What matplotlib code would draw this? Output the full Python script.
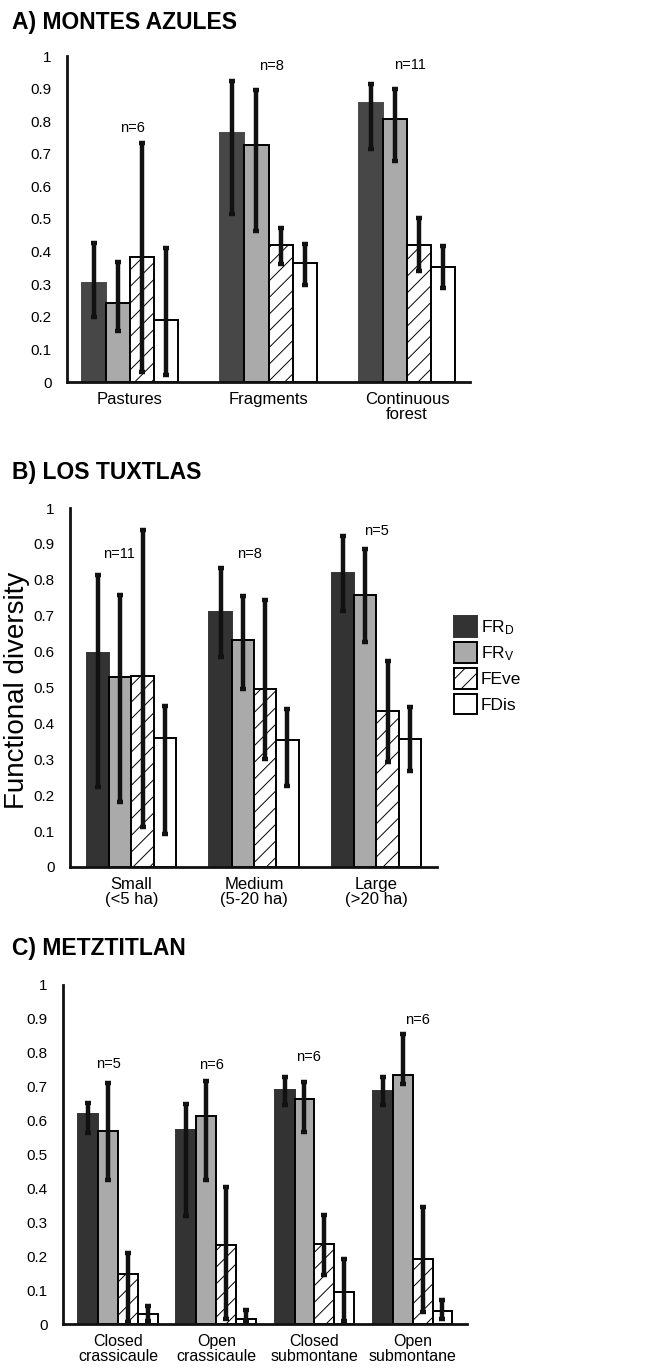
import matplotlib
matplotlib.use("Agg")
import matplotlib.pyplot as plt
from matplotlib.patches import Patch
import numpy as np

plt.rcParams['font.family'] = ['Liberation Sans', 'DejaVu Sans']
plt.rcParams['hatch.linewidth'] = 0.7
plt.rcParams['mathtext.fontset'] = 'custom'
plt.rcParams['mathtext.rm'] = 'Liberation Sans'
plt.rcParams['mathtext.it'] = 'Liberation Sans'

series = ["FR$_\\mathrm{D}$", "FR$_\\mathrm{V}$", "FEve", "FDis"]

# Panel A: Montes Azules
a_cats = ["Pastures", "Fragments", "Continuous\nforest"]
a_n = ["n=6", "n=8", "n=11"]
a_n_y = [0.78, 0.97, 0.972]
a_n_dx = [0.02, 0.02, 0.02]
a_vals = [[0.305, 0.765, 0.855],
          [0.243, 0.728, 0.808],
          [0.383, 0.420, 0.420],
          [0.191, 0.365, 0.353]]
a_lo = [[0.20, 0.514, 0.716],
        [0.155, 0.463, 0.678],
        [0.031, 0.362, 0.342],
        [0.02, 0.299, 0.289]]
a_hi = [[0.425, 0.923, 0.915],
        [0.368, 0.896, 0.900],
        [0.732, 0.473, 0.502],
        [0.411, 0.424, 0.417]]

# Panel B: Los Tuxtlas
b_cats = ["Small\n(<5 ha)", "Medium\n(5-20 ha)", "Large\n(>20 ha)"]
b_n = ["n=11", "n=8", "n=5"]
b_n_y = [0.872, 0.872, 0.935]
b_n_dx = [-0.10, -0.04, 0.0]
b_vals = [[0.595, 0.709, 0.819],
          [0.528, 0.632, 0.758],
          [0.533, 0.495, 0.435],
          [0.358, 0.354, 0.356]]
b_lo = [[0.222, 0.584, 0.714],
        [0.182, 0.495, 0.628],
        [0.111, 0.302, 0.293],
        [0.092, 0.227, 0.267]]
b_hi = [[0.814, 0.832, 0.921],
        [0.759, 0.756, 0.886],
        [0.938, 0.745, 0.574],
        [0.449, 0.441, 0.447]]

# Panel C: Metztitlan
c_cats = ["Closed\ncrassicaule", "Open\ncrassicaule", "Closed\nsubmontane", "Open\nsubmontane"]
c_n = ["n=5", "n=6", "n=6", "n=6"]
c_n_y = [0.767, 0.763, 0.789, 0.897]
c_n_dx = [-0.10, -0.05, -0.06, 0.05]
c_vals = [[0.620, 0.571, 0.691, 0.688],
          [0.569, 0.615, 0.665, 0.735],
          [0.147, 0.233, 0.237, 0.191],
          [0.029, 0.015, 0.093, 0.039]]
c_lo = [[0.564, 0.319, 0.645, 0.645],
        [0.424, 0.424, 0.567, 0.708],
        [0.005, 0.015, 0.144, 0.034],
        [0.010, 0.005, 0.010, 0.015]]
c_hi = [[0.652, 0.650, 0.728, 0.728],
        [0.711, 0.716, 0.713, 0.856],
        [0.208, 0.405, 0.322, 0.346],
        [0.052, 0.042, 0.193, 0.071]]

W, H = 646, 1372
fig = plt.figure(figsize=(W / 100, H / 100), dpi=100)

def make_ax(left, right, bottom, top):
    return fig.add_axes([left / W, 1 - bottom / H, (right - left) / W, (bottom - top) / H])

def draw(ax, cats, vals, lo, hi, ns, ny, ndx, bw, xlim, dark, xfs):
    x = np.arange(len(cats))
    fills = [dark, "#aaaaaa", "white", "white"]
    hatches = [None, None, "//", None]
    edges = [dark, "black", "black", "black"]
    for i in range(4):
        v = np.array(vals[i])
        pos = x + (i - 1.5) * bw
        err = np.array([v - np.array(lo[i]), np.array(hi[i]) - v])
        ax.bar(pos, v, width=bw, color=fills[i], edgecolor=edges[i], linewidth=1.4,
               hatch=hatches[i], zorder=2)
        ax.errorbar(pos, v, yerr=err, fmt="none", ecolor="#111111", elinewidth=3.2,
                    capsize=2.5, capthick=3.2, zorder=3)
    for xi, t, yy, dx in zip(x, ns, ny, ndx):
        ax.text(xi + dx, yy, t, ha="center", va="center", fontsize=10.5)
    ax.set_xlim(*xlim)
    ax.set_ylim(0, 1.0)
    ax.set_yticks(np.round(np.arange(0, 1.01, 0.1), 1))
    ax.set_yticklabels(["0"] + [f"{t:.1f}" for t in np.arange(0.1, 0.95, 0.1)] + ["1"])
    ax.tick_params(axis="y", length=0, pad=11, labelsize=11)
    ax.tick_params(axis="x", length=0, pad=7, labelsize=xfs)
    ax.set_xticks(x)
    ax.set_xticklabels(cats, linespacing=1.05)
    for s in ["top", "right"]:
        ax.spines[s].set_visible(False)
    for s in ["left", "bottom"]:
        ax.spines[s].set_linewidth(2.0)
        ax.spines[s].set_color("#111111")
    ax.spines["left"].set_bounds(0, 1.0)

axA = make_ax(67, 470, 382, 56)
draw(axA, a_cats, a_vals, a_lo, a_hi, a_n, a_n_y, a_n_dx, 0.175, (-0.455, 2.455), "#474747", 12)
axB = make_ax(70, 437, 867, 508)
draw(axB, b_cats, b_vals, b_lo, b_hi, b_n, b_n_y, b_n_dx, 0.182, (-0.502, 2.494), "#333333", 12)
axC = make_ax(63, 467, 1324, 985)
draw(axC, c_cats, c_vals, c_lo, c_hi, c_n, c_n_y, c_n_dx, 0.204, (-0.566, 3.556), "#333333", 11.5)

fig.text(12 / W, 1 - 22 / H, "A) MONTES AZULES", fontsize=16.5, fontweight="bold", va="center", ha="left")
fig.text(12 / W, 1 - 473 / H, "B) LOS TUXTLAS", fontsize=16.5, fontweight="bold", va="center", ha="left")
fig.text(12 / W, 1 - 948 / H, "C) METZTITLAN", fontsize=16.5, fontweight="bold", va="center", ha="left")
fig.text(17 / W, 1 - 690 / H, "Functional diversity", fontsize=20, rotation=90, va="center", ha="center")

handles = [Patch(facecolor="#333333", edgecolor="#333333", linewidth=1.4),
           Patch(facecolor="#aaaaaa", edgecolor="black", linewidth=1.4),
           Patch(facecolor="white", edgecolor="black", hatch="//", linewidth=1.4),
           Patch(facecolor="white", edgecolor="black", linewidth=1.4)]
fig.legend(handles, series, loc="upper left", bbox_to_anchor=(454 / W, 1 - 616 / H),
           frameon=False, fontsize=12.5, handlelength=1.35, handleheight=1.45,
           labelspacing=0.3, handletextpad=0.2, borderpad=0, borderaxespad=0)

fig.savefig("out.png", dpi=100)
